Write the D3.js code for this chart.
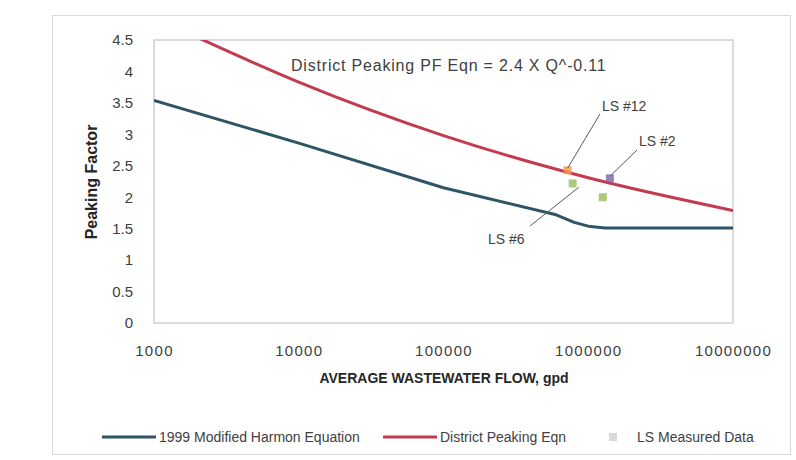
<!DOCTYPE html>
<html>
<head>
<meta charset="utf-8">
<script src="https://cdn.jsdelivr.net/npm/d3@7"></script>
<style>
  body { margin: 0; background: #fff; }
  svg { font-family: "Liberation Sans", Arial, sans-serif; }
</style>
</head>
<body>
<svg id="chart" width="796" height="460"></svg>
<script>
// flow (gpd) vs peaking factor
const harmonFlow = [1000, 10000, 100000, 600000, 800000, 1000000, 1300000, 10000000];
const harmonPF   = [3.54, 2.86, 2.15, 1.72, 1.60, 1.54, 1.51, 1.51];

const districtFlow = [1000, 2000, 10000, 100000, 1000000, 10000000];
const districtPF   = [4.86, 4.54, 3.83, 2.98, 2.31, 1.79];

// lift station measured points
const lsFlow  = [720000, 780000, 1410000, 1260000];
const lsPF    = [2.43, 2.22, 2.30, 2.00];
const lsColor = ["#f79646", "#9bbb59", "#8064a2", "#9bbb59"];

const xTicks = [1000, 10000, 100000, 1000000, 10000000];
const yTicks = [0, 0.5, 1, 1.5, 2, 2.5, 3, 3.5, 4, 4.5];

const svg = d3.select("#chart");

// outer chart frame
svg.append("rect")
  .attr("x", 52.5).attr("y", 15.5)
  .attr("width", 738).attr("height", 439)
  .attr("fill", "#fff")
  .attr("stroke", "#d9d9d9");

const plotL = 154, plotR = 733, plotT = 40, plotB = 323;

const x = d3.scaleLog().domain([1000, 10000000]).range([plotL, plotR]);
const y = d3.scaleLinear().domain([0, 4.5]).range([plotB, plotT]);

// plot area
svg.append("rect")
  .attr("x", plotL).attr("y", plotT)
  .attr("width", plotR - plotL).attr("height", plotB - plotT)
  .attr("fill", "#fff")
  .attr("stroke", "#d0d0d0")
  .attr("stroke-width", 1.5);

svg.append("clipPath").attr("id", "plotclip")
  .append("rect")
  .attr("x", plotL).attr("y", plotT)
  .attr("width", plotR - plotL).attr("height", plotB - plotT);

// axes (labels only, frame is the plot rect)
const yAxis = svg.append("g")
  .attr("transform", `translate(${plotL - 18},0)`)
  .call(d3.axisLeft(y).tickValues(yTicks).tickSize(0).tickFormat(d3.format("")));
yAxis.select(".domain").remove();
yAxis.selectAll("text")
  .attr("font-size", 15)
  .attr("fill", "#404040")
  .attr("font-family", "Liberation Sans, Arial, sans-serif");

const xAxis = svg.append("g")
  .attr("transform", `translate(0,${plotB + 19})`)
  .call(d3.axisBottom(x).tickValues(xTicks).tickSize(0).tickFormat(d3.format("d")));
xAxis.select(".domain").remove();
xAxis.selectAll("text")
  .attr("font-size", 15)
  .attr("letter-spacing", "1.3px")
  .attr("fill", "#404040")
  .attr("font-family", "Liberation Sans, Arial, sans-serif");

// axis titles
svg.append("text")
  .attr("x", 444).attr("y", 383)
  .attr("text-anchor", "middle")
  .attr("font-size", 14)
  .attr("font-weight", "bold")
  .attr("fill", "#262626")
  .text("AVERAGE WASTEWATER FLOW, gpd");

svg.append("text")
  .attr("transform", "translate(97,182) rotate(-90)")
  .attr("text-anchor", "middle")
  .attr("font-size", 16)
  .attr("font-weight", "bold")
  .attr("fill", "#262626")
  .text("Peaking Factor");

const plot = svg.append("g").attr("clip-path", "url(#plotclip)");

// harmon curve: straight runs with a short bend into the 1.5 floor
plot.append("path")
  .datum(d3.zip(harmonFlow, harmonPF))
  .attr("d", d3.line().x(d => x(d[0])).y(d => y(d[1])))
  .attr("fill", "none")
  .attr("stroke", "#2d5566")
  .attr("stroke-width", 3)
  .attr("stroke-linejoin", "round");

plot.append("path")
  .datum(d3.zip(districtFlow, districtPF))
  .attr("d", d3.line().x(d => x(d[0])).y(d => y(d[1])).curve(d3.curveMonotoneX))
  .attr("fill", "none")
  .attr("stroke", "#c23b4e")
  .attr("stroke-width", 3);

// equation note
svg.append("text")
  .attr("x", 291).attr("y", 71)
  .attr("font-size", 16)
  .attr("letter-spacing", "0.8px")
  .attr("fill", "#404040")
  .text("District Peaking PF Eqn = 2.4 X Q^-0.11");

// lift station markers
plot.selectAll("rect.ls")
  .data(d3.range(lsFlow.length))
  .enter().append("rect")
  .attr("class", "ls")
  .attr("x", i => x(lsFlow[i]) - 4)
  .attr("y", i => y(lsPF[i]) - 4)
  .attr("width", 8).attr("height", 8)
  .attr("fill", i => lsColor[i])
  .attr("opacity", 0.8);

// callouts: label position + target point index
const calloutText = ["LS #12", "LS #2", "LS #6"];
const calloutPt   = [0, 2, 1];
const calloutPos  = [[602, 111], [639, 146], [488, 244]];
const calloutEnd  = [[600, 114], [637, 150], [530, 226]];

svg.selectAll("line.callout")
  .data(d3.range(calloutText.length))
  .enter().append("line")
  .attr("class", "callout")
  .attr("x1", i => calloutEnd[i][0])
  .attr("y1", i => calloutEnd[i][1])
  .attr("x2", i => x(lsFlow[calloutPt[i]]) - (i === 2 ? -6 : 0))
  .attr("y2", i => y(lsPF[calloutPt[i]]) + (i === 2 ? 4 : -2))
  .attr("stroke", "#595959")
  .attr("stroke-width", 1);

svg.selectAll("text.callout")
  .data(calloutText)
  .enter().append("text")
  .attr("class", "callout")
  .attr("x", (d, i) => calloutPos[i][0])
  .attr("y", (d, i) => calloutPos[i][1])
  .attr("font-size", 14)
  .attr("fill", "#404040")
  .text(d => d);

// legend
const legend = svg.append("g").attr("font-size", 14).attr("fill", "#404040");
const legItems = [
  { label: "1999 Modified Harmon Equation", color: "#2d5566", x: 102, type: "line" },
  { label: "District Peaking Eqn", color: "#c23b4e", x: 383, type: "line" },
  { label: "LS Measured Data", color: "#d9d9d9", x: 606, type: "marker" }
];
legItems.forEach(it => {
  if (it.type === "line") {
    legend.append("line")
      .attr("x1", it.x).attr("x2", it.x + 54)
      .attr("y1", 437).attr("y2", 437)
      .attr("stroke", it.color).attr("stroke-width", 3);
    legend.append("text").attr("x", it.x + 57).attr("y", 442).text(it.label);
  } else {
    legend.append("rect")
      .attr("x", it.x + 3).attr("y", 433)
      .attr("width", 8).attr("height", 8)
      .attr("fill", it.color);
    legend.append("text").attr("x", it.x + 31).attr("y", 442).text(it.label);
  }
});
</script>
</body>
</html>
